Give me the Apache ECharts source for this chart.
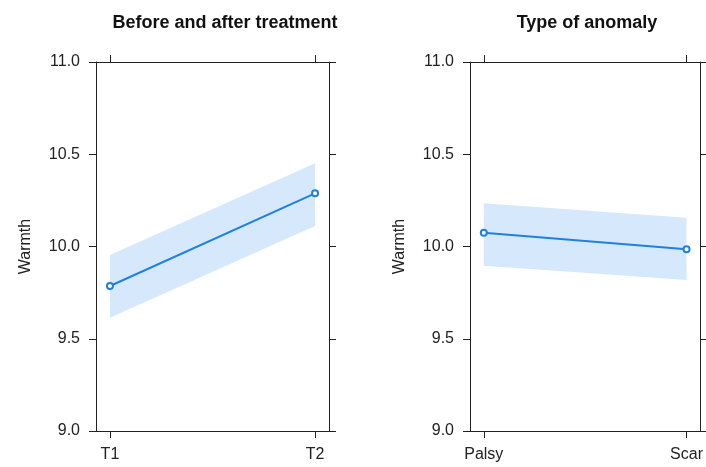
<!DOCTYPE html>
<html>
<head>
<meta charset="utf-8">
<script src="https://cdn.jsdelivr.net/npm/echarts@6/dist/echarts.min.js"></script>
<style>html,body{margin:0;padding:0;background:#fff}#c{width:706px;height:467px}</style>
</head>
<body>
<div id="c"></div>
<script>
var titles = ['Before and after treatment', 'Type of anomaly'];
var catsA = ['T1', 'T2'];
var fitA = [9.786, 10.288];
var lowerA = [9.614, 10.111];
var upperA = [9.954, 10.451];
var catsB = ['Palsy', 'Scar'];
var fitB = [10.075, 9.985];
var lowerB = [9.896, 9.818];
var upperB = [10.234, 10.156];
var yTicks = [9.0, 9.5, 10.0, 10.5, 11.0];
var yName = 'Warmth';

var lineColor = '#1f80e3';
var bandColor = '#d6e9fc';
var boxColor = '#222';
var font = 'Liberation Sans, Arial, sans-serif';

var chart = echarts.init(document.getElementById('c'));

function xAxisPair(gi, cats) {
  var base = {
    type: 'value', gridIndex: gi, min: -0.068, max: 1.068,
    splitLine: {show: false},
    axisLine: {show: true, onZero: false, lineStyle: {color: boxColor, width: 1}}
  };
  return [
    Object.assign({}, base, {
      position: 'bottom',
      axisTick: {show: true, length: 7, lineStyle: {color: boxColor}, customValues: [0, 1]},
      axisLabel: {show: true, customValues: [0, 1], margin: 16, color: '#222', fontSize: 16, fontFamily: font,
        formatter: function (v) { return cats[Math.round(v)]; }}
    }),
    Object.assign({}, base, {
      position: 'top',
      axisTick: {show: true, length: 7, lineStyle: {color: boxColor}, customValues: [0, 1]},
      axisLabel: {show: false}
    })
  ];
}
function yAxisPair(gi) {
  var base = {
    type: 'value', gridIndex: gi, min: yTicks[0], max: yTicks[yTicks.length - 1], interval: 0.5,
    splitLine: {show: false},
    axisLine: {show: true, onZero: false, lineStyle: {color: boxColor, width: 1}},
    axisTick: {show: true, length: 7, lineStyle: {color: boxColor}}
  };
  return [
    Object.assign({}, base, {
      position: 'left',
      name: yName, nameLocation: 'middle', nameGap: 62, nameRotate: 90,
      nameTextStyle: {color: '#222', fontSize: 16, fontFamily: font},
      axisLabel: {show: true, margin: 16, color: '#222', fontSize: 16, fontFamily: font,
        formatter: function (v) { return v.toFixed(1); }}
    }),
    Object.assign({}, base, {position: 'right', axisLabel: {show: false}})
  ];
}

function bandSeries(ai, lower, upper) {
  var data = lower.map(function (l, i) { return [i, l, upper[i]]; });
  return {
    type: 'custom', xAxisIndex: ai, yAxisIndex: ai, silent: true, z: 1,
    data: data,
    renderItem: function (params, api) {
      if (params.dataIndex !== 0) return null;
      var pts = [];
      for (var i = 0; i < data.length; i++) pts.push(api.coord([data[i][0], data[i][2]]));
      for (var j = data.length - 1; j >= 0; j--) pts.push(api.coord([data[j][0], data[j][1]]));
      return {type: 'polygon', shape: {points: pts}, style: {fill: bandColor, stroke: null}};
    }
  };
}
function fitSeries(ai, fit) {
  return {
    type: 'line', xAxisIndex: ai, yAxisIndex: ai, z: 3,
    data: fit.map(function (v, i) { return [i, v]; }),
    symbol: 'emptyCircle', symbolSize: 6, showSymbol: true,
    lineStyle: {color: lineColor, width: 2},
    itemStyle: {color: lineColor, borderColor: lineColor, borderWidth: 1.6},
    animation: false
  };
}

var xa = xAxisPair(0, catsA), xb = xAxisPair(1, catsB);
var ya = yAxisPair(0), yb = yAxisPair(1);

chart.setOption({
  animation: false,
  title: [
    {text: titles[0], left: 220, top: 9, textAlign: 'center',
      textStyle: {fontSize: 18, fontWeight: 'bold', color: '#111', fontFamily: font}},
    {text: titles[1], left: 582, top: 9, textAlign: 'center',
      textStyle: {fontSize: 18, fontWeight: 'bold', color: '#111', fontFamily: font}}
  ],
  grid: [
    {left: 96, top: 62, width: 233, height: 369},
    {left: 470, top: 62, width: 232, height: 369}
  ],
  xAxis: [xa[0], xb[0], xa[1], xb[1]],
  yAxis: [ya[0], yb[0], ya[1], yb[1]],
  series: [
    bandSeries(0, lowerA, upperA),
    bandSeries(1, lowerB, upperB),
    fitSeries(0, fitA),
    fitSeries(1, fitB)
  ]
});
</script>
</body>
</html>
